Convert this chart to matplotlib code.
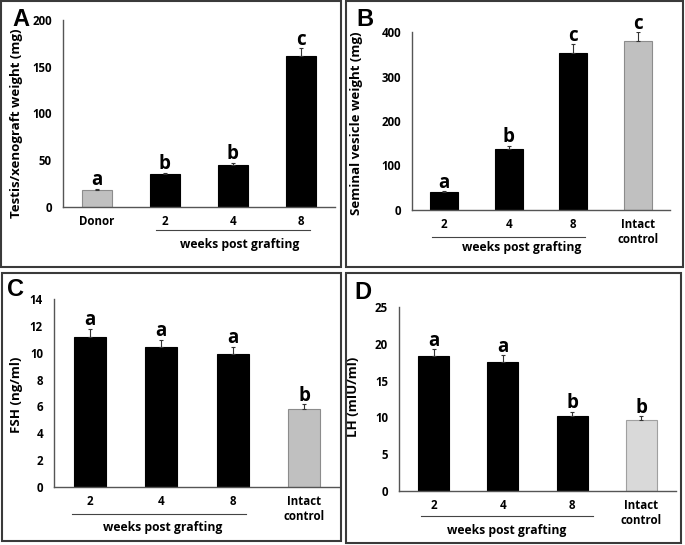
import numpy as np
import matplotlib.pyplot as plt
from matplotlib.patches import Rectangle

W, H = 685, 545
plt.rcParams['font.family'] = ['Open Sans', 'DejaVu Sans']
plt.rcParams['font.weight'] = 'bold'

#data for each panel
a_labels = ['Donor', '2', '4', '8']
a_vals = [18.5, 35, 45, 162]
a_err = [1, 1.5, 2.5, 8]
a_sig = ['a', 'b', 'b', 'c']

b_labels = ['2', '4', '8', 'Intact\ncontrol']
b_vals = [39.5, 136, 353, 380]
b_err = [3, 8, 20, 19]
b_sig = ['a', 'b', 'c', 'c']

c_labels = ['2', '4', '8', 'Intact\ncontrol']
c_vals = [11.2, 10.4, 9.9, 5.8]
c_err = [0.6, 0.57, 0.55, 0.35]
c_sig = ['a', 'a', 'a', 'b']

d_labels = ['2', '4', '8', 'Intact\ncontrol']
d_vals = [18.3, 17.5, 10.2, 9.6]
d_err = [0.95, 0.95, 0.6, 0.55]
d_sig = ['a', 'a', 'b', 'b']

fig = plt.figure(figsize=(W / 100, H / 100), dpi=100)


def px_axes(left, top, right, bottom):
    return fig.add_axes([left / W, 1 - bottom / H, (right - left) / W, (bottom - top) / H])


def frame(x0, y0, x1, y1):
    fig.patches.append(Rectangle((x0 / W, 1 - y1 / H), (x1 - x0) / W, (y1 - y0) / H,
                                 transform=fig.transFigure, fill=False,
                                 edgecolor='#3a3a3a', linewidth=1.5))


def draw(ax, labels, vals, errs, sig, colors, edges, ymax, ystep, ylabel, width,
         ylab_pos, line_x, line_y, text_x, text_y):
    x = np.arange(len(vals))
    ax.bar(x, vals, width, color=colors, edgecolor=edges, linewidth=0.8, zorder=2)
    ax.errorbar(x, vals, yerr=[np.zeros(len(vals)), errs], fmt='none',
                ecolor='#333333', elinewidth=0.8, capsize=1.5, capthick=0.8, zorder=3)
    for xi, v, e, s in zip(x, vals, errs, sig):
        ax.annotate(s, (xi, v + e), xytext=(0, 2.5), textcoords='offset points',
                    ha='center', va='baseline', fontsize=13.5, fontweight='bold')
    ax.set_xlim(-0.5, len(vals) - 0.5)
    ax.set_ylim(0, ymax)
    ax.set_yticks(np.arange(0, ymax + ystep / 2, ystep))
    ax.set_xticks(x, labels)
    for s in ['top', 'right']:
        ax.spines[s].set_visible(False)
    for s in ['left', 'bottom']:
        ax.spines[s].set_color('#555555')
        ax.spines[s].set_linewidth(1)
    ax.tick_params(axis='both', length=0, labelsize=8.3)
    ax.tick_params(axis='x', pad=6)
    ax.tick_params(axis='y', pad=8)
    ax.set_ylabel(ylabel, fontsize=9.5, fontweight='bold')
    ax.yaxis.set_label_coords(*ylab_pos)
    #underline + weeks post grafting text
    tr = ax.get_xaxis_transform()
    ax.plot(line_x, [line_y, line_y], color='#444444', linewidth=0.8,
            transform=tr, clip_on=False)
    ax.text(text_x, text_y, 'weeks post grafting', transform=tr, ha='center',
            va='center', fontsize=8.7, fontweight='bold')


black = 'black'
gray = '#c0c0c0'

#panel A
ax = px_axes(63, 20, 335, 207)
draw(ax, a_labels, a_vals, a_err, a_sig, [gray, black, black, black],
     ['#8c8c8c', black, black, black], 200, 50, 'Testis/xenograft weight (mg)', 0.44,
     (-0.147, 0.45), [0.87, 3.13], -0.123, 2.1, -0.203)

#panel B
ax = px_axes(412, 32, 670, 210)
draw(ax, b_labels, b_vals, b_err, b_sig, [black, black, black, gray],
     [black, black, black, '#8c8c8c'], 400, 100, 'Seminal vesicle weight (mg)', 0.44,
     (-0.19, 0.49), [-0.19, 2.18], -0.151, 1.2, -0.213)

#panel C
ax = px_axes(54, 299, 340, 487)
draw(ax, c_labels, c_vals, c_err, c_sig, [black, black, black, gray],
     [black, black, black, '#8c8c8c'], 14, 2, 'FSH (ng/ml)', 0.45,
     (-0.108, 0.49), [-0.245, 2.18], -0.144, 1.02, -0.218)

#panel D
ax = px_axes(399, 307, 676, 491)
draw(ax, d_labels, d_vals, d_err, d_sig, [black, black, black, '#d9d9d9'],
     [black, black, black, '#a0a0a0'], 25, 5, 'LH (mIU/ml)', 0.45,
     (-0.141, 0.51), [-0.18, 2.30], -0.137, 1.06, -0.214)

#panel frames and letters
frame(1, 1, 341, 267)
frame(346, 1, 683, 267)
frame(2, 273, 341, 541)
frame(346, 273, 681, 543)
for lab, px, py in [('A', 12, 8), ('B', 356, 8), ('C', 7, 278), ('D', 354, 281)]:
    fig.text(px / W, 1 - py / H, lab, ha='left', va='top', fontsize=17,
             fontweight='bold', family='Liberation Sans')

fig.savefig('out.png', dpi=100)
